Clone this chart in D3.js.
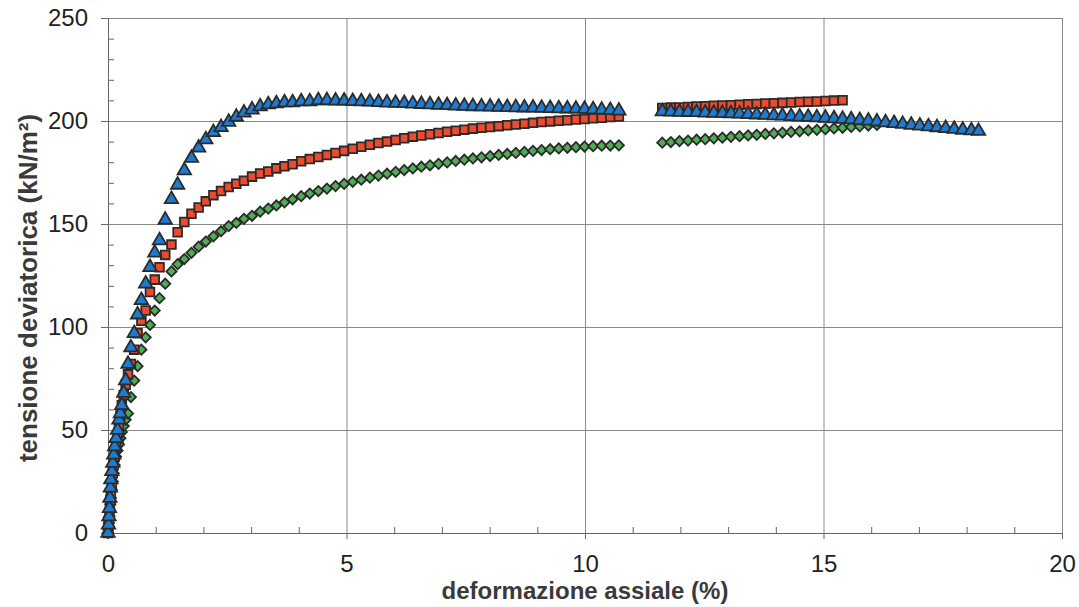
<!DOCTYPE html>
<html><head><meta charset="utf-8">
<script src="https://cdn.jsdelivr.net/npm/d3@7"></script>
<style>
html,body{margin:0;padding:0;background:#fff;}
svg{display:block;}
</style></head>
<body>
<script>
const strain = [0,0.01,0.02,0.03,0.04,0.05,0.06,0.08,0.10,0.12,0.14,0.17,0.20,0.23,0.26,0.29,0.33,0.37,0.42,0.48,
0.55,0.62,0.70,0.79,0.88,0.98,1.08,1.20,1.33,1.46,1.60,1.75,1.90,2.05,2.21,2.37,2.53,2.69,2.85,3.02,
3.19,3.36,3.53,3.70,3.87,4.05,4.23,4.41,4.59,4.77,4.95,5.13,5.31,5.49,5.67,5.85,6.03,6.21,6.39,6.57,
6.75,6.93,7.11,7.29,7.47,7.65,7.83,8.01,8.19,8.37,8.55,8.73,8.91,9.09,9.27,9.45,9.63,9.81,9.99,10.17,
10.35,10.53,10.71,11.62,11.80,11.98,12.16,12.34,12.52,12.70,12.88,13.06,13.24,13.42,13.60,13.78,13.96,14.14,14.32,14.50,
14.68,14.86,15.04,15.22,15.40,15.58,15.76,15.94,16.12,16.30,16.48,16.66,16.84,17.02,17.20,17.38,17.56,17.74,17.92,18.10,18.25];

const blueStress = [0,4,8,12,17,22,26,30,34,38,42,46,50,55,58,62,68,74,82,90,
97,106,113,121,129,136,142,152,162,169,176,182,187,191,194.5,197,199.5,202,204,205.5,
207,208,208.5,209,209,209.5,209.5,210,210,209.8,209.8,209.6,209.5,209.3,209.1,208.9,208.7,208.6,208.4,208.2,
208,207.8,207.6,207.4,207.3,207.1,207,206.9,206.8,206.7,206.6,206.5,206.4,206.3,206.2,206.1,206,205.9,205.8,205.6,
205.4,205.2,205,204.6,204.5,204.4,204.3,204.2,204,203.9,203.8,203.6,203.5,203.3,203.1,202.9,202.7,202.5,202.3,202.1,
201.9,201.7,201.5,201.2,201,200.7,200.4,200.1,199.7,199.3,198.9,198.5,198.1,197.7,197.3,196.9,196.5,196.1,195.7,195.4,195.1];

const redStress = [0,3,6,9,12,16,19,24,29,33,37,42,47,52,57,62,67,72,77,82,
89,97,103,108,117,123,129,135,140,146,151,155,158,161,164,166,168,169.5,171,173,
174.5,175.5,177,178,179,180.5,181.5,182.5,183.5,184.5,185.5,186.5,187.5,188.5,189.3,190,190.8,191.6,192.4,193,
193.6,194.2,194.8,195.3,195.8,196.3,196.7,197.1,197.5,197.9,198.3,198.7,199.1,199.5,199.8,200.1,200.4,200.7,201,201.3,
201.6,201.9,202.2,206.3,206.5,206.6,206.8,207,207.2,207.4,207.5,207.7,207.9,208.1,208.3,208.5,208.6,208.8,209,209.2,
209.4,209.5,209.7,209.9,210.1];

const greenStress = [0,3,5,8,11,14,17,21,25,29,33,37,40,43,46,49,52,55,58,66,
74,81,89,95,101,108,114,121,127,130.5,133,136,139,141.5,144,146.5,149,150.5,152.5,154,
156,157.5,159,160.5,162,163.5,164.8,166,167.2,168.4,169.5,170.5,171.5,172.5,173.5,174.4,175.3,176.2,177,177.8,
178.5,179.2,179.9,180.6,181.2,181.8,182.4,183,183.5,184,184.5,185,185.5,185.9,186.3,186.7,187,187.3,187.6,187.8,
188,188.1,188.2,189.5,189.8,190.2,190.5,190.9,191.2,191.6,191.9,192.3,192.6,193,193.3,193.7,194,194.4,194.7,195,
195.4,195.7,196,196.4,196.7,197.1,197.4,197.8,198.1];

const xMajorTicks = [0,5,10,15,20];
const yMajorTicks = [0,50,100,150,200,250];
const xMinorTicks = [1,2,3,4,6,7,8,9,11,12,13,14,16,17,18,19];
const yMinorTicks = [10,20,30,40,60,70,80,90,110,120,130,140,160,170,180,190,210,220,230,240];
const xTitle = "deformazione assiale (%)";
const yTitle = "tensione deviatorica (kN/m²)";

const W = 1079, H = 607;
const L = 108, R = 1062, T = 18, B = 533;
const svg = d3.select("body").append("svg").attr("width", W).attr("height", H);
svg.append("rect").attr("width", W).attr("height", H).attr("fill", "#fff");

const x = d3.scaleLinear().domain([0, 20]).range([L, R]);
const y = d3.scaleLinear().domain([0, 250]).range([B, T]);

const gridColor = "#8a8a8a";
const axisColor = "#666";
const font = "'Liberation Sans', Arial, sans-serif";

// horizontal gridlines (incl. top border)
const gy = svg.append("g").attr("transform", `translate(${L},0)`)
  .call(d3.axisLeft(y).tickValues([50,100,150,200,250]).tickSize(-(R - L)).tickFormat(""));
gy.select(".domain").remove();
gy.selectAll("line").attr("stroke", gridColor).attr("stroke-width", 1);

// vertical gridlines (incl. right border)
const gx = svg.append("g").attr("transform", `translate(0,${B})`)
  .call(d3.axisBottom(x).tickValues([5,10,15,20]).tickSize(-(B - T)).tickFormat(""));
gx.select(".domain").remove();
gx.selectAll("line").attr("stroke", gridColor).attr("stroke-width", 1);

// minor ticks
const myMinor = svg.append("g").attr("transform", `translate(${L},0)`)
  .call(d3.axisLeft(y).tickValues(yMinorTicks).tickSize(-6).tickFormat(""));
myMinor.select(".domain").remove();
myMinor.selectAll("line").attr("stroke", axisColor);
const mxMinor = svg.append("g").attr("transform", `translate(0,${B})`)
  .call(d3.axisBottom(x).tickValues(xMinorTicks).tickSize(-6).tickFormat(""));
mxMinor.select(".domain").remove();
mxMinor.selectAll("line").attr("stroke", axisColor);

// major axes
const yAxis = svg.append("g").attr("transform", `translate(${L},0)`)
  .call(d3.axisLeft(y).tickValues(yMajorTicks).tickSize(7).tickPadding(13).tickSizeOuter(0));
yAxis.select(".domain").attr("stroke", axisColor);
yAxis.selectAll("line").attr("stroke", axisColor);
yAxis.selectAll("text").attr("font-family", font).attr("font-size", 24).attr("fill", "#222");

const xAxis = svg.append("g").attr("transform", `translate(0,${B})`)
  .call(d3.axisBottom(x).tickValues(xMajorTicks).tickSize(6).tickPadding(16).tickSizeOuter(0));
xAxis.select(".domain").attr("stroke", axisColor);
xAxis.selectAll("line").attr("stroke", axisColor);
xAxis.selectAll("text").attr("font-family", font).attr("font-size", 24).attr("fill", "#222");

// titles
svg.append("text").attr("x", 585).attr("y", 599).attr("text-anchor", "middle")
  .attr("font-family", font).attr("font-weight", "bold").attr("font-size", 24).attr("fill", "#3a3a3a")
  .text(xTitle);
svg.append("text").attr("transform", "translate(37,288) rotate(-90)").attr("text-anchor", "middle")
  .attr("font-family", font).attr("font-weight", "bold").attr("font-size", 26).attr("fill", "#3a3a3a")
  .text(yTitle);

// series
const series = [
  { values: greenStress, type: d3.symbolSquare, size: 52, rot: 45, fill: "#4fae55" },
  { values: redStress, type: d3.symbolSquare, size: 76, rot: 0, fill: "#ee4a2e" },
  { values: blueStress, type: d3.symbolTriangle, size: 78, rot: 0, fill: "#1f7bd0" }
];
series.forEach(s => {
  const pts = s.values.map((v, i) => [strain[i], v]);
  const path = d3.symbol().type(s.type).size(s.size)();
  svg.append("g").selectAll("path").data(pts).join("path")
    .attr("d", path)
    .attr("transform", d => `translate(${x(d[0])},${y(d[1])}) rotate(${s.rot})`)
    .attr("fill", s.fill)
    .attr("stroke", "#2b2b2b")
    .attr("stroke-width", 1.8);
});
</script>
</body></html>
